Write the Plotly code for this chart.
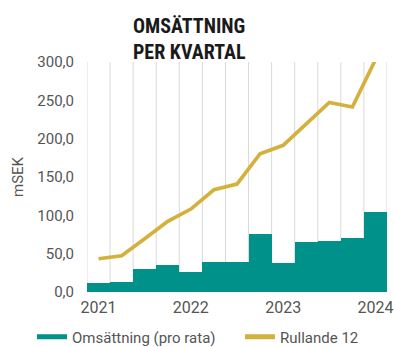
import plotly.graph_objects as go

# Quarterly revenue (pro rata) and rolling 12-month revenue, mSEK
quarters = ["2021 Q1", "2021 Q2", "2021 Q3", "2021 Q4",
            "2022 Q1", "2022 Q2", "2022 Q3", "2022 Q4",
            "2023 Q1", "2023 Q2", "2023 Q3", "2023 Q4",
            "2024 Q1"]
omsattning = [11.2, 13.0, 30.0, 35.2, 26.1, 39.1, 39.1, 75.6, 37.3, 64.7, 66.5, 69.9, 104.3]
rullande_12 = [43.4, 47.3, 69.5, 92.1, 108.2, 133.4, 140.8, 180.4, 191.3, 219.5, 247.3, 241.3, 303.0]

year_ticks = [0, 4, 8, 12]
year_labels = ["2021", "2022", "2023", "2024"]
y_ticks = [0, 50, 100, 150, 200, 250, 300]
y_labels = ["0,0", "50,0", "100,0", "150,0", "200,0", "250,0", "300,0"]

TEAL = "#00918A"
GOLD = "#D4B13C"
TXT = "#555555"
FONT = "Roboto"

# plot area in pixels
ML, MR, MT, MB = 87, 8, 62, 55
PW, PH = 395 - ML - MR, 347 - MT - MB

x = list(range(len(quarters)))

fig = go.Figure()
fig.add_trace(go.Bar(
    x=x, y=omsattning, marker=dict(color=TEAL, line=dict(width=0)),
    showlegend=False, hovertext=quarters, name="Omsättning (pro rata)",
))
# legend stand-in: wide teal swatch for the bars
fig.add_trace(go.Scatter(
    x=[None], y=[None], mode="lines", line=dict(color=TEAL, width=7),
    name="Omsättning (pro rata)", legend="legend",
))
fig.add_trace(go.Scatter(
    x=x, y=rullande_12, mode="lines", line=dict(color=GOLD, width=3.7),
    name="Rullande 12", hovertext=quarters, legend="legend2",
))

# vertical separators between quarters
for i in range(len(quarters) + 1):
    fig.add_shape(type="line", xref="x", yref="y", x0=i - 0.5, x1=i - 0.5,
                  y0=0, y1=300, line=dict(color="#D9D9D9", width=1), layer="below")

legend_y = -(337 - (MT + PH)) / PH
legend_common = dict(orientation="h", xref="paper", xanchor="left",
                     yref="paper", y=legend_y, yanchor="middle",
                     itemwidth=30, font=dict(size=15, color=TXT),
                     itemsizing="constant", bgcolor="rgba(0,0,0,0)")

fig.update_layout(
    width=395, height=347,
    margin=dict(l=ML, r=MR, t=MT, b=MB, autoexpand=False),
    paper_bgcolor="white", plot_bgcolor="white",
    bargap=0,
    font=dict(family=FONT, color=TXT, size=15),
    xaxis=dict(range=[-0.5, 12.5], tickmode="array", tickvals=year_ticks,
               ticktext=year_labels, showgrid=False, zeroline=False,
               ticks="", ticklabelstandoff=4, tickfont=dict(size=16, color=TXT)),
    yaxis=dict(range=[0, 300], tickmode="array", tickvals=y_ticks,
               ticktext=y_labels, showgrid=False, zeroline=False,
               ticks="", ticklabelstandoff=12, tickfont=dict(size=15, color=TXT),
               title=dict(text="mSEK", font=dict(size=15, color=TXT), standoff=10)),
    legend=dict(x=(32 - ML) / PW, **legend_common),
    legend2=dict(x=(240 - ML) / PW, **legend_common),
    annotations=[dict(
        text="<b>OMSÄTTNING<br>PER KVARTAL</b>", xref="paper", yref="paper",
        x=(131 - ML) / PW, y=1.0, xanchor="left", yanchor="bottom",
        align="left", showarrow=False, yshift=-4,
        font=dict(family="Roboto Condensed", size=20, color="#1a1a1a"),
    )],
)

fig.write_html("out.html")
